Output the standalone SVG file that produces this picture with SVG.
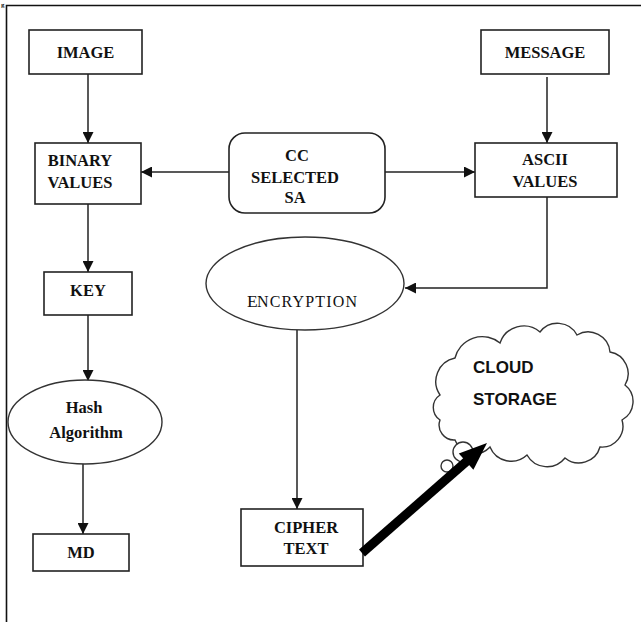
<svg xmlns="http://www.w3.org/2000/svg" width="641" height="622" viewBox="0 0 641 622">
  <defs>
    <marker id="arrow" viewBox="0 0 10 10" refX="10" refY="5" markerWidth="11" markerHeight="11" markerUnits="userSpaceOnUse" orient="auto">
      <path d="M0,0 L10,5 L0,10 z" fill="#111"/>
    </marker>
    <style>
      .box { fill: #fff; stroke: #222; stroke-width: 1.6; }
      .shape { fill: #fff; stroke: #333; stroke-width: 1.4; }
      .lbl { font-family: "Liberation Serif", "Times New Roman", serif; font-weight: bold; font-size: 16.5px; fill: #111; text-anchor: middle; }
      .edge { fill: none; stroke: #222; stroke-width: 1.5; }
      .cloudtxt { font-family: "Liberation Sans", Arial, sans-serif; font-weight: bold; font-size: 17px; fill: #111; }
      .enc { font-family: "Liberation Serif", "Times New Roman", serif; fill: #111; }
    </style>
  </defs>
  <rect width="641" height="622" fill="#fff"/>

  <!-- caption remnant and frame -->
  <text x="1" y="7" font-family="Liberation Serif, serif" font-weight="bold" font-size="7" fill="#111">g</text>
  <path d="M6.5,622 L6.5,5.5 L641,5.5" fill="none" stroke="#111" stroke-width="1.6"/>

  <!-- connectors -->
  <g id="connectors">
    <line class="edge" x1="88" y1="74" x2="88" y2="143" marker-end="url(#arrow)"/>
    <line class="edge" x1="229" y1="172" x2="141" y2="172" marker-end="url(#arrow)"/>
    <line class="edge" x1="385" y1="172" x2="475" y2="172" marker-end="url(#arrow)"/>
    <line class="edge" x1="547" y1="77" x2="547" y2="143" marker-end="url(#arrow)"/>
    <polyline class="edge" points="547,197 547,288 405,288" marker-end="url(#arrow)"/>
    <line class="edge" x1="88" y1="204" x2="88" y2="272" marker-end="url(#arrow)"/>
    <line class="edge" x1="88" y1="315" x2="88" y2="381" marker-end="url(#arrow)"/>
    <line class="edge" x1="83" y1="464" x2="83" y2="534" marker-end="url(#arrow)"/>
    <line class="edge" x1="297" y1="330" x2="297" y2="509" marker-end="url(#arrow)"/>
  </g>

  <g id="image">
    <rect class="box" x="29" y="30" width="113" height="44"/>
    <text class="lbl" x="85.5" y="58" font-size="17.5">IMAGE</text>
  </g>

  <g id="message">
    <rect class="box" x="481" y="30" width="128" height="44"/>
    <text class="lbl" x="545" y="58" font-size="17.5">MESSAGE</text>
  </g>

  <g id="binary-values">
    <rect class="box" x="35" y="143" width="106" height="61"/>
    <text class="lbl" x="80" y="166">BINARY</text>
    <text class="lbl" x="80" y="188">VALUES</text>
  </g>

  <g id="cc-selected-sa">
    <rect class="box" x="229" y="133" width="156" height="80" rx="16" ry="16"/>
    <text class="lbl" x="297" y="161">CC</text>
    <text class="lbl" x="295" y="183">SELECTED</text>
    <text class="lbl" x="295" y="203">SA</text>
  </g>

  <g id="ascii-values">
    <rect class="box" x="475" y="143" width="142" height="54"/>
    <text class="lbl" x="545" y="165">ASCII</text>
    <text class="lbl" x="545" y="187">VALUES</text>
  </g>

  <g id="key">
    <rect class="box" x="44" y="272" width="88" height="43"/>
    <text class="lbl" x="88" y="296">KEY</text>
  </g>

  <g id="encryption">
    <ellipse class="shape" cx="305" cy="283.5" rx="99" ry="46.5"/>
    <text class="enc" x="247" y="307" font-size="17.5">E</text>
    <text class="enc" x="257" y="307" font-size="16" textLength="100" lengthAdjust="spacing">NCRYPTION</text>
  </g>

  <g id="hash-algorithm">
    <ellipse class="shape" cx="85" cy="422" rx="77" ry="42"/>
    <text class="lbl" x="84" y="413" font-size="18">Hash</text>
    <text class="lbl" x="86" y="438" font-size="17.5">Algorithm</text>
  </g>

  <g id="md">
    <rect class="box" x="33" y="534" width="96" height="37"/>
    <text class="lbl" x="81" y="558">MD</text>
  </g>

  <g id="cipher-text">
    <rect class="box" x="241" y="509" width="122" height="57"/>
    <text class="lbl" x="306" y="533">CIPHER</text>
    <text class="lbl" x="306" y="554">TEXT</text>
  </g>

  <g id="cloud-storage">
    <path class="shape" d="M440,395
      A24,24 0 0 1 455,358
      A28,28 0 0 1 500,343
      A25,25 0 0 1 540,332
      A22,22 0 0 1 577,335
      A22,22 0 0 1 610,352
      A22,22 0 0 1 625,385
      A21,21 0 0 1 622,420
      A21,21 0 0 1 600,447
      A22,22 0 0 1 565,458
      A23,23 0 0 1 527,455
      A23,23 0 0 1 490,447
      A21,21 0 0 1 455,440
      A15,15 0 0 1 440,420
      A15,15 0 0 1 440,395 z"/>
    <circle class="shape" cx="463" cy="452" r="10"/>
    <circle class="shape" cx="447" cy="466" r="6"/>
    <text class="cloudtxt" x="473" y="373">CLOUD</text>
    <text class="cloudtxt" x="473" y="405">STORAGE</text>
  </g>

  <!-- heavy upload arrow from CIPHER TEXT into the cloud -->
  <g id="upload-arrow">
    <line x1="362" y1="553" x2="467" y2="461" stroke="#000" stroke-width="9"/>
    <polygon points="487,443 473.4,469.8 458.8,453.4" fill="#000"/>
  </g>
</svg>
